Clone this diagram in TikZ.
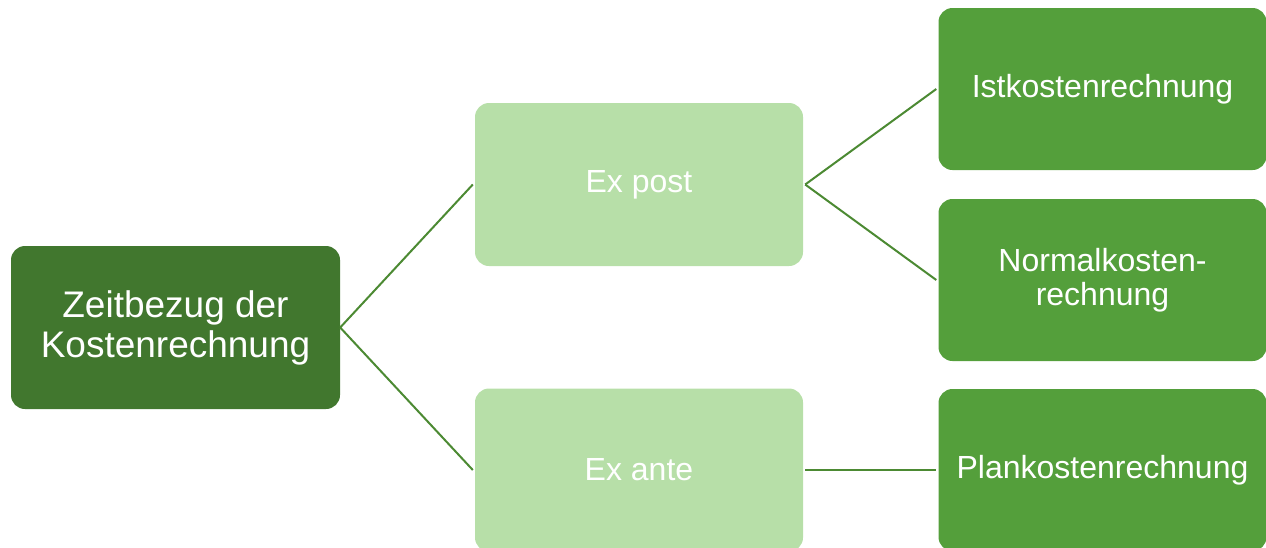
\documentclass[tikz,border=0pt]{standalone}
\usepackage{fontspec}
\setmainfont{Liberation Sans}
\definecolor{rootgreen}{HTML}{41772E}
\definecolor{lightgreen}{HTML}{B7DFA8}
\definecolor{midgreen}{HTML}{549F3B}
\definecolor{linkgreen}{HTML}{4C8A33}
\tikzset{
  box/.style={rectangle, rounded corners=14pt, minimum width=328pt,
    minimum height=163pt, text=white, align=center, inner sep=4pt,
    font=\fontsize{32}{34}\selectfont},
  rootbox/.style={box, fill=rootgreen, minimum width=329pt,
    font=\fontsize{37}{40}\selectfont},
  phasebox/.style={box, fill=lightgreen},
  methodbox/.style={box, fill=midgreen, minimum height=162pt},
  link/.style={draw=linkgreen, line width=2pt}
}
\begin{document}
\begin{tikzpicture}[x=1pt,y=-1pt]
  \useasboundingbox (0,0) rectangle (1266,547);
  \clip (0,0) rectangle (1266,547);
  % tree of cost accounting by time reference
  \node[rootbox] (root) at (175.5,327.5) {Zeitbezug der\\Kostenrechnung};
  \node[phasebox] (post) at (639,184.5) {Ex post};
  \node[phasebox] (ante) at (639,470) {Ex ante};
  \node[methodbox] (ist) at (1102.5,89) {Istkostenrechnung};
  \node[methodbox] (normal) at (1102.5,280) {Normalkosten-\\rechnung};
  \node[methodbox] (plan) at (1102.5,470) {Plankostenrechnung};
  % connectors
  \draw[link] (root.east) -- ([xshift=-2pt]post.west);
  \draw[link] (root.east) -- ([xshift=-2pt]ante.west);
  \draw[link] ([xshift=2pt]post.east) -- ([xshift=-2pt]ist.west);
  \draw[link] ([xshift=2pt]post.east) -- ([xshift=-2pt]normal.west);
  \draw[link] ([xshift=2pt]ante.east) -- ([xshift=-2pt]plan.west);
\end{tikzpicture}
\end{document}
